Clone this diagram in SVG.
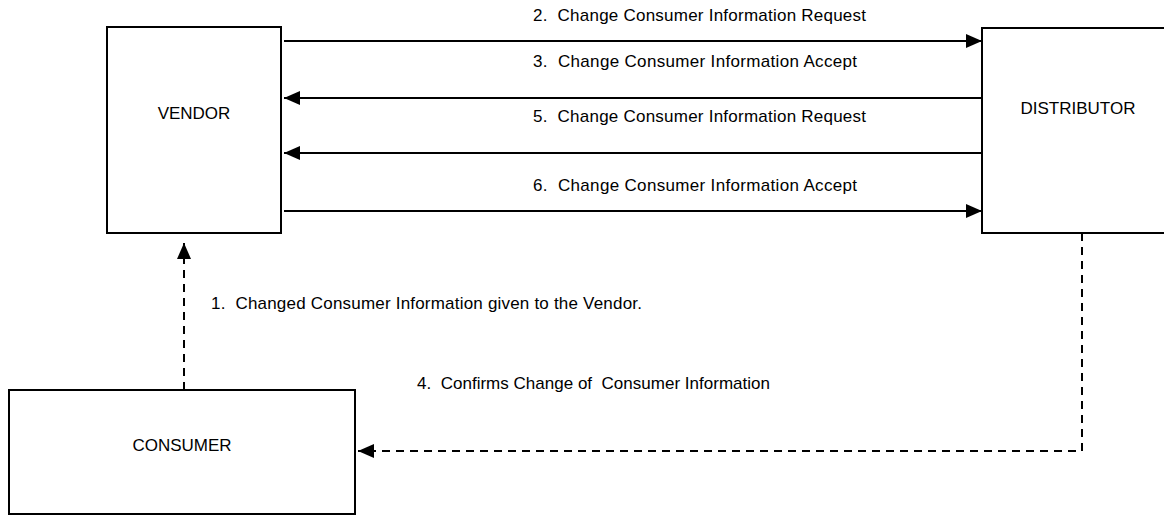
<svg xmlns="http://www.w3.org/2000/svg" width="1164" height="515" viewBox="0 0 1164 515">
<style>
.box{fill:#fff;stroke:#000;stroke-width:2}
.lbl{font-family:"Liberation Sans",Arial,sans-serif;font-size:17px;fill:#000}
.ln{stroke:#000;stroke-width:2;fill:none}
.dash{stroke:#000;stroke-width:2;fill:none;stroke-dasharray:8 6}
</style>
<defs>
<marker id="ah" viewBox="0 0 16 14" refX="16" refY="7" markerWidth="16" markerHeight="14" markerUnits="userSpaceOnUse" orient="auto">
<path d="M0,0 L16,7 L0,14 Z" fill="#000"/>
</marker>
</defs>
<rect width="1164" height="515" fill="#fff"/>
<g id="vendor">
<rect class="box" x="107" y="27" width="174" height="206"/>
<text class="lbl" x="194" y="119" text-anchor="middle">VENDOR</text>
</g>
<g id="distributor">
<rect class="box" x="982" y="28" width="200" height="205"/>
<text class="lbl" x="1078" y="114" text-anchor="middle">DISTRIBUTOR</text>
</g>
<g id="consumer">
<rect class="box" x="9" y="390" width="346" height="124"/>
<text class="lbl" x="182" y="451" text-anchor="middle">CONSUMER</text>
</g>
<g id="connectors">
<line class="ln" x1="284" y1="41" x2="982" y2="41" marker-end="url(#ah)"/>
<line class="ln" x1="982" y1="98" x2="284" y2="98" marker-end="url(#ah)"/>
<line class="ln" x1="982" y1="153" x2="284" y2="153" marker-end="url(#ah)"/>
<line class="ln" x1="284" y1="211" x2="982" y2="211" marker-end="url(#ah)"/>
<line class="dash" x1="184" y1="390" x2="184" y2="243" marker-end="url(#ah)"/>
<polyline class="dash" points="1082,233 1082,451 358,451" marker-end="url(#ah)"/>
<text class="lbl" x="533" y="21" textLength="333" lengthAdjust="spacing" xml:space="preserve">2.  Change Consumer Information Request</text>
<text class="lbl" x="533" y="67" textLength="324" lengthAdjust="spacing" xml:space="preserve">3.  Change Consumer Information Accept</text>
<text class="lbl" x="533" y="122" textLength="333" lengthAdjust="spacing" xml:space="preserve">5.  Change Consumer Information Request</text>
<text class="lbl" x="533" y="191" textLength="324" lengthAdjust="spacing" xml:space="preserve">6.  Change Consumer Information Accept</text>
<text class="lbl" x="211" y="309" textLength="431" lengthAdjust="spacing" xml:space="preserve">1.  Changed Consumer Information given to the Vendor.</text>
<text class="lbl" x="417" y="389" textLength="353" lengthAdjust="spacing" xml:space="preserve">4.  Confirms Change of  Consumer Information</text>
</g>
</svg>
